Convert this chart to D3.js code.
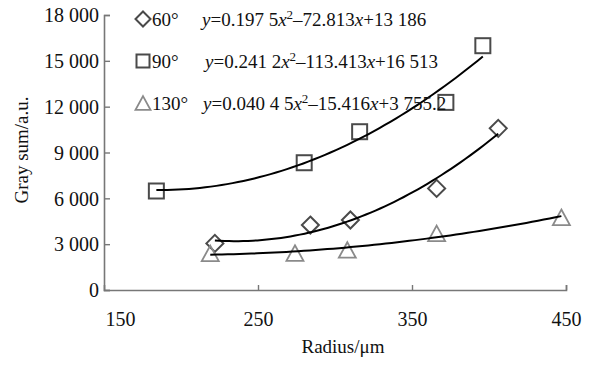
<!DOCTYPE html>
<html>
<head>
  <meta charset="utf-8">
  <title>Gray sum vs radius</title>
  <script src="https://cdn.jsdelivr.net/npm/d3@7"></script>
  <style>
    body { margin: 0; background: #fff; }
    svg { display: block; }
    text { font-family: "Liberation Serif", "Times New Roman", serif; fill: #111; }
  </style>
</head>
<body>
<div id="chart"></div>
<script>
// data
var radius60  = [222, 284, 310, 366, 406];
var gray60    = [3050, 4250, 4580, 6650, 10580];
var radius90  = [184, 280, 316, 372, 396];
var gray90    = [6480, 8330, 10360, 12280, 15990];
var radius130 = [219, 274, 308, 366, 447];
var gray130   = [2400, 2420, 2620, 3710, 4760];

var xTicks = [150, 250, 350, 450];
var yTicks = [0, 3000, 6000, 9000, 12000, 15000, 18000];

var legendNames = ["60°", "90°", "130°"];
// equation pieces: [a, b, c] as printed
var eqText = [
  ["0.197 5", "72.813", "13 186"],
  ["0.241 2", "113.413", "16 513"],
  ["0.040 4 5", "15.416", "3 755.2"]
];

var width = 589, height = 365;
var margin = {top: 15, left: 104, right: 23, bottom: 75};

var svg = d3.select("#chart").append("svg")
  .attr("width", width)
  .attr("height", height);

var x = d3.scaleLinear().domain([150, 450]).range([margin.left, width - margin.right]);
var y = d3.scaleLinear().domain([0, 18000]).range([height - margin.bottom, margin.top]);

var axisColor = "#777";

// y axis, ticks pointing inward
var yAxis = svg.append("g")
  .attr("transform", "translate(" + x(150) + ",0)")
  .call(d3.axisRight(y).tickValues(yTicks).tickSize(6)
    .tickFormat(function(d) { return d3.format(",")(d).replace(",", " "); }));
yAxis.select(".domain").attr("stroke", axisColor).attr("stroke-width", 1.6);
yAxis.selectAll(".tick line").attr("stroke", axisColor).attr("stroke-width", 1.4);
yAxis.selectAll(".tick text")
  .attr("x", -5).attr("text-anchor", "end")
  .attr("dy", "0.34em")
  .style("font-size", "20px").style("font-family", "Liberation Serif").attr("fill", "#111");

// x axis, ticks pointing up
var xAxis = svg.append("g")
  .attr("transform", "translate(0," + y(0) + ")")
  .call(d3.axisTop(x).tickValues(xTicks).tickSize(5).tickFormat(d3.format("d")));
xAxis.select(".domain").attr("stroke", axisColor).attr("stroke-width", 1.6);
xAxis.selectAll(".tick line").attr("stroke", axisColor).attr("stroke-width", 1.4);
xAxis.selectAll(".tick").filter(function(d) { return d == 150; }).select("line").remove();
xAxis.selectAll(".tick text")
  .attr("y", 36).attr("dy", 0)
  .style("font-size", "20px").style("font-family", "Liberation Serif").attr("fill", "#111");
// first label sits a bit right of the corner
xAxis.selectAll(".tick text").filter(function(d) { return d == 150; }).attr("dx", 16);

// axis titles
svg.append("text")
  .attr("x", (x(150) + x(450)) / 2 + 8)
  .attr("y", 353)
  .attr("text-anchor", "middle")
  .style("font-size", "19px")
  .text("Radius/μm");

svg.append("text")
  .attr("transform", "translate(28," + 150 + ") rotate(-90)")
  .attr("text-anchor", "middle")
  .style("font-size", "19px")
  .text("Gray sum/a.u.");

// least squares quadratic trendline through the points
function quadFit(xs, ys) {
  var s = [0, 0, 0, 0, 0], t = [0, 0, 0];
  xs.forEach(function(xv, i) {
    for (var k = 0; k < 5; k++) s[k] += Math.pow(xv, k);
    for (var k = 0; k < 3; k++) t[k] += Math.pow(xv, k) * ys[i];
  });
  var M = [[s[0], s[1], s[2], t[0]], [s[1], s[2], s[3], t[1]], [s[2], s[3], s[4], t[2]]];
  for (var i = 0; i < 3; i++) {
    for (var j = i + 1; j < 3; j++) {
      var f = M[j][i] / M[i][i];
      for (var k = i; k < 4; k++) M[j][k] -= f * M[i][k];
    }
  }
  var c = [0, 0, 0];
  for (var i = 2; i >= 0; i--) {
    var v = M[i][3];
    for (var k = i + 1; k < 3; k++) v -= M[i][k] * c[k];
    c[i] = v / M[i][i];
  }
  return function(xv) { return c[0] + c[1] * xv + c[2] * xv * xv; };
}

var series = [
  {xs: radius60, ys: gray60, shape: "diamond", color: "#4a4a4a"},
  {xs: radius90, ys: gray90, shape: "square", color: "#4a4a4a"},
  {xs: radius130, ys: gray130, shape: "triangle", color: "#8a8a8a"}
];

var line = d3.line().x(function(d) { return x(d[0]); }).y(function(d) { return y(d[1]); });

function marker(g, shape, cx, cy, color, sz) {
  if (shape == "square") {
    g.append("rect").attr("x", cx - sz / 2).attr("y", cy - sz / 2)
      .attr("width", sz).attr("height", sz)
      .attr("fill", "none").attr("stroke", color).attr("stroke-width", 2);
  } else if (shape == "diamond") {
    var r = sz / 2 + 1;
    g.append("path")
      .attr("d", "M" + cx + "," + (cy - r) + "L" + (cx + r) + "," + cy + "L" + cx + "," + (cy + r) + "L" + (cx - r) + "," + cy + "Z")
      .attr("fill", "none").attr("stroke", color).attr("stroke-width", 2);
  } else {
    var h = sz * 0.9, w = sz + 2;
    g.append("path")
      .attr("d", "M" + cx + "," + (cy - h / 2 - 1) + "L" + (cx + w / 2) + "," + (cy + h / 2 + 1) + "L" + (cx - w / 2) + "," + (cy + h / 2 + 1) + "Z")
      .attr("fill", "none").attr("stroke", color).attr("stroke-width", 1.8);
  }
}

var marks = svg.append("g");
series.forEach(function(s) {
  s.xs.forEach(function(xv, i) {
    marker(marks, s.shape, x(xv), y(s.ys[i]), s.color, 15);
  });
});

series.forEach(function(s) {
  var f = quadFit(s.xs, s.ys);
  var x0 = d3.min(s.xs), x1 = d3.max(s.xs);
  var pts = d3.range(0, 61).map(function(i) {
    var xv = x0 + (x1 - x0) * i / 60;
    return [xv, f(xv)];
  });
  svg.append("path").datum(pts)
    .attr("d", line)
    .attr("fill", "none").attr("stroke", "#000").attr("stroke-width", 2);
});

// legend with equations
var rowY = [26, 68, 110];
var eqX = [202, 205, 203];
series.forEach(function(s, i) {
  marker(svg, s.shape, 143, rowY[i] - 7, s.color, 13);
  svg.append("text").attr("x", 152).attr("y", rowY[i])
    .style("font-size", "19px").text(legendNames[i]);
  var t = svg.append("text").attr("x", eqX[i]).attr("y", rowY[i]).style("font-size", "19px");
  t.append("tspan").style("font-style", "italic").text("y");
  t.append("tspan").text("=" + eqText[i][0]);
  t.append("tspan").style("font-style", "italic").text("x");
  t.append("tspan").attr("dy", -7).style("font-size", "13px").text("2");
  t.append("tspan").attr("dy", 7).text("–" + eqText[i][1]);
  t.append("tspan").style("font-style", "italic").text("x");
  t.append("tspan").text("+" + eqText[i][2]);
});
</script>
</body>
</html>
